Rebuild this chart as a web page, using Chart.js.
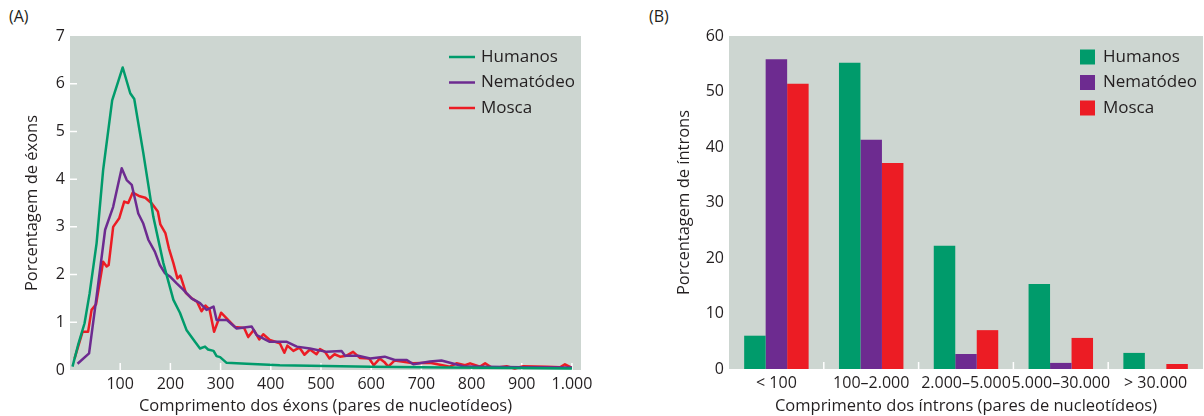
<!DOCTYPE html>
<html>
<head>
<meta charset="utf-8">
<script src="https://cdn.jsdelivr.net/npm/chart.js@4.4.1/dist/chart.umd.min.js"></script>
<style>
  html, body { margin: 0; padding: 0; background: #fff; }
  #wrap { position: relative; width: 1204px; height: 416px; overflow: hidden; font-family: 'Open Sans', sans-serif; color: #231f20; }
  .panel { position: absolute; top: 0; height: 416px; }
  .tag { position: absolute; top: 6px; font-size: 16px; line-height: 20px; }
</style>
</head>
<body>
<div id="wrap">
  <div class="tag" style="left:9px">(A)</div>
  <div class="tag" style="left:649px">(B)</div>
  <div class="panel" style="left:0;width:600px"><canvas id="exons"></canvas></div>
  <div class="panel" style="left:600px;width:604px"><canvas id="introns"></canvas></div>
</div>
<script>
'use strict';

const seriesNames = ['Humanos', 'Nematódeo', 'Mosca'];
const seriesColors = ['#009b6b', '#6d2b90', '#ec1c24'];

// (A) exon length distribution, [length, percent]
const exonHumanos = [
  [5, 0.07], [16, 0.52], [29, 0.98], [39, 1.6], [53, 2.66], [66, 4.19], [84, 5.65], [105, 6.34],
  [120, 5.8], [128, 5.68], [146, 4.55], [166, 3.21], [186, 2.24], [206, 1.47], [219, 1.2], [232, 0.84],
  [249, 0.59], [259, 0.45], [269, 0.49], [275, 0.43], [286, 0.4], [292, 0.29], [299, 0.27], [312, 0.15],
  [352, 0.13], [418, 0.1], [478, 0.09], [600, 0.07], [750, 0.05], [900, 0.04], [1000, 0.03]
];
const exonNematodeo = [
  [15, 0.13], [38, 0.35], [53, 1.54], [70, 2.94], [86, 3.42], [96, 3.9], [103, 4.23], [113, 3.98],
  [123, 3.88], [127, 3.7], [136, 3.28], [146, 3.07], [156, 2.73], [169, 2.48], [179, 2.2], [189, 2.03],
  [199, 1.96], [212, 1.82], [226, 1.68], [242, 1.5], [259, 1.4], [272, 1.26], [286, 1.33], [292, 1.05],
  [312, 1.05], [332, 0.87], [362, 0.91], [372, 0.73], [398, 0.59], [432, 0.59], [452, 0.49], [478, 0.45],
  [511, 0.38], [541, 0.4], [548, 0.3], [574, 0.3], [598, 0.24], [627, 0.28], [647, 0.21], [671, 0.21],
  [684, 0.12], [717, 0.18], [740, 0.2], [783, 0.08], [828, 0.07], [900, 0.06], [1000, 0.05]
];
const exonMosca = [
  [9, 0.24], [25, 0.8], [36, 0.8], [43, 1.26], [52, 1.38], [66, 2.27], [73, 2.17], [77, 2.2],
  [86, 3.0], [98, 3.18], [108, 3.53], [116, 3.5], [125, 3.72], [139, 3.64], [150, 3.61], [163, 3.49],
  [175, 3.32], [180, 3.05], [190, 2.87], [197, 2.55], [206, 2.24], [214, 1.92], [220, 1.98], [231, 1.61],
  [244, 1.49], [253, 1.43], [262, 1.23], [270, 1.35], [278, 1.27], [287, 0.8], [301, 1.2], [314, 1.06],
  [329, 0.9], [347, 0.88], [355, 0.69], [366, 0.84], [377, 0.64], [385, 0.75], [398, 0.63], [418, 0.56],
  [427, 0.36], [433, 0.51], [445, 0.4], [457, 0.47], [467, 0.32], [478, 0.43], [491, 0.33], [498, 0.44],
  [508, 0.38], [517, 0.24], [527, 0.33], [538, 0.28], [551, 0.3], [564, 0.38], [578, 0.25], [596, 0.24],
  [605, 0.1], [617, 0.24], [626, 0.17], [634, 0.07], [647, 0.2], [671, 0.16], [684, 0.14], [717, 0.15],
  [757, 0.07], [770, 0.14], [787, 0.1], [797, 0.14], [817, 0.07], [827, 0.14], [840, 0.05], [856, 0.06],
  [870, 0.08], [886, 0.03], [903, 0.08], [950, 0.07], [977, 0.06], [986, 0.12], [999, 0.05]
];
const exonTicks = [100, 200, 300, 400, 500, 600, 700, 800, 900, 1000];

// (B) intron length classes, percent
const intronCategories = ['< 100', '100–2.000', '2.000–5.000', '5.000–30.000', '> 30.000'];
const intronHumanos = [6, 55.2, 22.2, 15.3, 2.9];
const intronNematodeo = [55.8, 41.3, 2.7, 1.1, 0];
const intronMosca = [51.4, 37.1, 7.0, 5.6, 0.9];

const ink = '#231f20';
const plotGray = '#cdd6d1';
Chart.defaults.font.family = "'Open Sans', sans-serif";
Chart.defaults.color = ink;

const fmt = v => String(v).replace(/\B(?=(\d{3})+(?!\d))/g, '.');

const plotBg = {
  id: 'plotBg',
  beforeDraw(chart) {
    const { ctx, chartArea: a } = chart;
    ctx.save();
    ctx.fillStyle = plotGray;
    ctx.fillRect(a.left, a.top, a.right - a.left, a.bottom - a.top);
    ctx.restore();
  }
};

// short white tick marks just inside the plot area
function innerTicks(xMarks, yMarks) {
  return {
    id: 'innerTicks',
    beforeDatasetsDraw(chart) {
      const { ctx, chartArea: a, scales } = chart;
      ctx.save();
      ctx.strokeStyle = '#fff';
      ctx.lineWidth = 1.5;
      ctx.beginPath();
      xMarks(scales.x).forEach(px => { ctx.moveTo(px, a.bottom); ctx.lineTo(px, a.bottom - 7); });
      yMarks(scales.y).forEach(py => { ctx.moveTo(a.left, py); ctx.lineTo(a.left + 7, py); });
      ctx.stroke();
      ctx.restore();
    }
  };
}

function cornerLegend(offsetRight, style) {
  return {
    id: 'cornerLegend',
    afterDraw(chart) {
      const { ctx, chartArea: a } = chart;
      const left = a.right - offsetRight;
      ctx.save();
      ctx.font = "17px 'Open Sans', sans-serif";
      ctx.textBaseline = 'middle';
      chart.data.datasets.forEach((ds, i) => {
        const y = a.top + 21 + i * 25.5;
        let textX;
        if (style === 'line') {
          ctx.strokeStyle = ds.borderColor;
          ctx.lineWidth = 2.5;
          ctx.beginPath();
          ctx.moveTo(left, y);
          ctx.lineTo(left + 26, y);
          ctx.stroke();
          textX = left + 32;
        } else {
          ctx.fillStyle = ds.backgroundColor;
          ctx.fillRect(left, y - 7.5, 15, 15);
          textX = left + 23;
        }
        ctx.fillStyle = ink;
        ctx.fillText(ds.label, textX, y);
      });
      ctx.restore();
    }
  };
}

const tickFont = { size: 16 };
const titleFont = { size: 16.5 };

new Chart(document.getElementById('exons'), {
  type: 'line',
  data: {
    datasets: [exonHumanos, exonNematodeo, exonMosca].map((pts, i) => ({
      label: seriesNames[i],
      data: pts.map(([x, y]) => ({ x, y })),
      borderColor: seriesColors[i],
      backgroundColor: seriesColors[i],
      borderWidth: 2.5,
      pointRadius: 0,
      tension: 0,
      borderJoinStyle: 'round'
    }))
  },
  options: {
    responsive: true,
    maintainAspectRatio: false,
    animation: false,
    layout: { padding: { top: 36, right: 19, bottom: 0, left: 0 } },
    plugins: { legend: { display: false }, tooltip: { enabled: false } },
    scales: {
      x: {
        type: 'linear', min: 0, max: 1018,
        afterBuildTicks: s => { s.ticks = exonTicks.map(v => ({ value: v })); },
        afterFit: s => { s.height = 46; },
        grid: { display: false, drawTicks: false },
        border: { display: false },
        ticks: { padding: 5, color: ink, font: tickFont, maxRotation: 0, autoSkip: false, callback: v => fmt(v) },
        title: { display: true, text: 'Comprimento dos éxons (pares de nucleotídeos)', color: ink, font: titleFont, padding: { top: 0, bottom: 0 } }
      },
      y: {
        min: 0, max: 7,
        afterFit: s => { s.width = 70; },
        grid: { display: false, drawTicks: false },
        border: { display: false },
        ticks: { stepSize: 1, padding: 5, color: ink, font: tickFont },
        title: { display: true, text: 'Porcentagem de éxons', color: ink, font: titleFont, padding: { top: 22, bottom: 0 } }
      }
    }
  },
  plugins: [
    plotBg,
    innerTicks(x => exonTicks.map(v => x.getPixelForValue(v)), y => [1, 2, 3, 4, 5, 6].map(v => y.getPixelForValue(v))),
    cornerLegend(132, 'line')
  ]
});

new Chart(document.getElementById('introns'), {
  type: 'bar',
  data: {
    labels: intronCategories,
    datasets: [intronHumanos, intronNematodeo, intronMosca].map((vals, i) => ({
      label: seriesNames[i],
      data: vals,
      backgroundColor: seriesColors[i],
      borderWidth: 0,
      categoryPercentage: 0.68,
      barPercentage: 1.0
    }))
  },
  options: {
    responsive: true,
    maintainAspectRatio: false,
    animation: false,
    layout: { padding: { top: 36, right: 1, bottom: 0, left: 0 } },
    plugins: { legend: { display: false }, tooltip: { enabled: false } },
    scales: {
      x: {
        afterFit: s => { s.height = 47; },
        grid: { display: false, drawTicks: false },
        border: { display: false },
        ticks: { padding: 5, color: ink, font: tickFont, maxRotation: 0, autoSkip: false },
        title: { display: true, text: 'Comprimento dos íntrons (pares de nucleotídeos)', color: ink, font: titleFont, padding: { top: 0, bottom: 0 } }
      },
      y: {
        min: 0, max: 60,
        afterFit: s => { s.width = 129; },
        grid: { display: false, drawTicks: false },
        border: { display: false },
        ticks: { stepSize: 10, padding: 5, color: ink, font: tickFont },
        title: { display: true, text: 'Porcentagem de íntrons', color: ink, font: titleFont, padding: { top: 74, bottom: 0 } }
      }
    }
  },
  plugins: [
    plotBg,
    innerTicks(
      x => intronCategories.slice(1).map((c, i) => (x.getPixelForValue(i) + x.getPixelForValue(i + 1)) / 2),
      () => []
    ),
    cornerLegend(123, 'box')
  ]
});
</script>
</body>
</html>
